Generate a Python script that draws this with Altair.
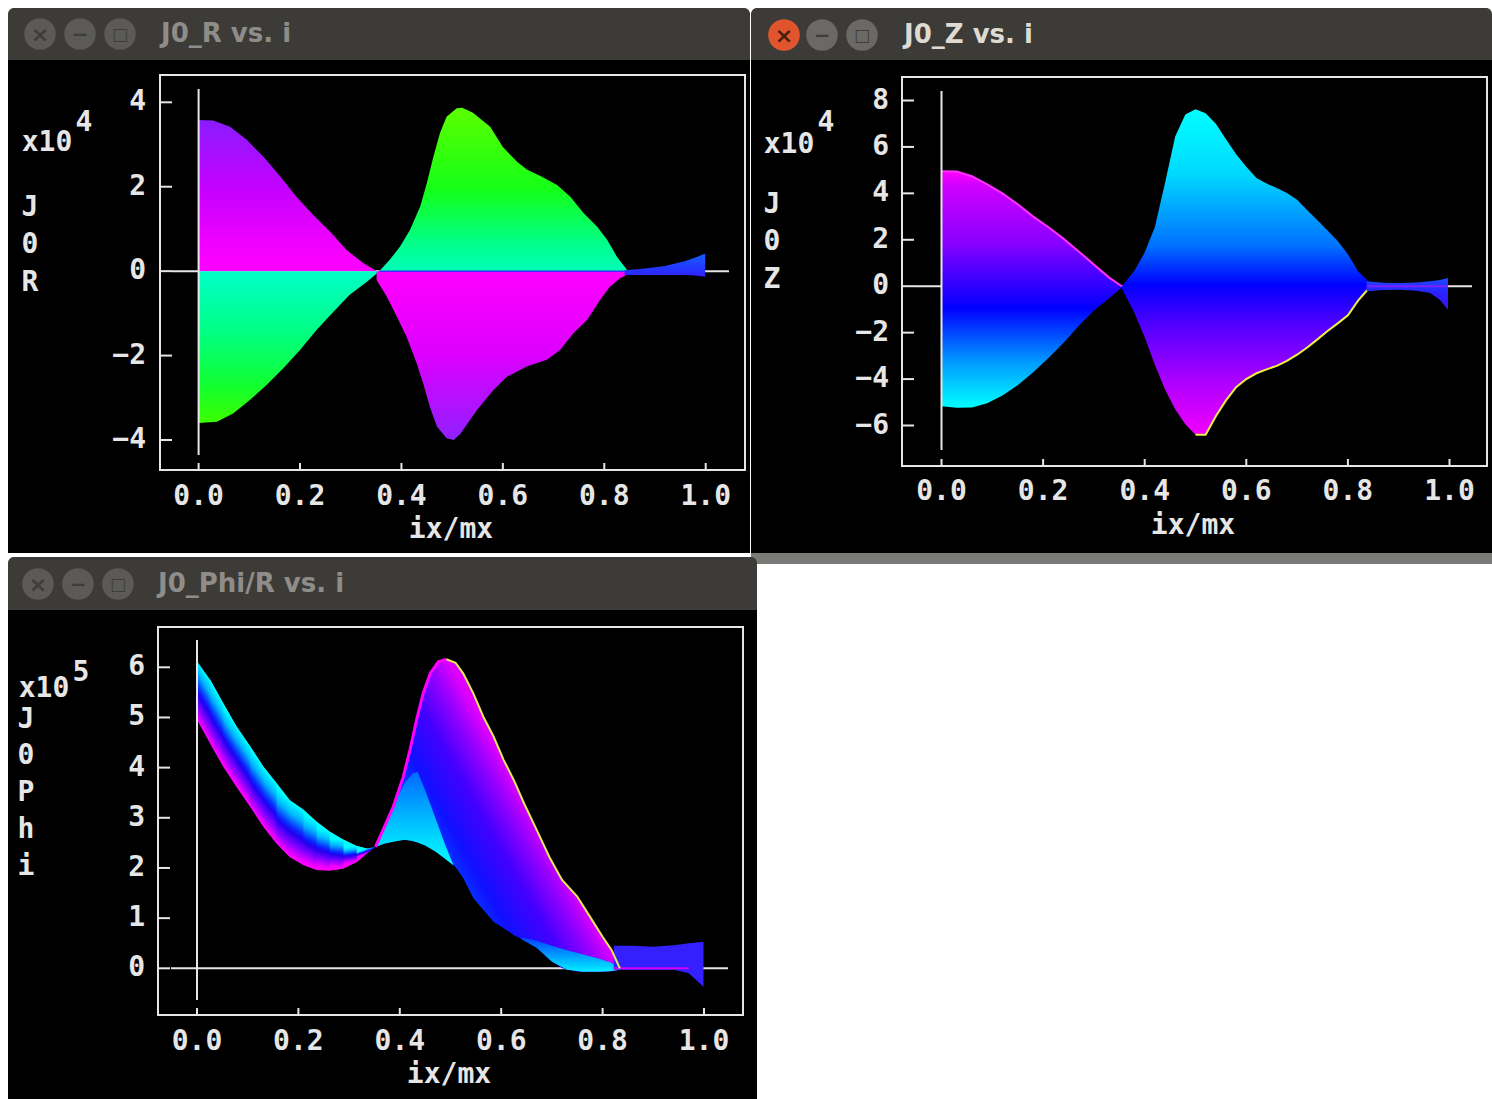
import math
import altair as alt
import pandas as pd

# ---------------- data ----------------
X_TICKS = [0.0, 0.2, 0.4, 0.6, 0.8, 1.0]
X_TICK_LABELS = ["0.0", "0.2", "0.4", "0.6", "0.8", "1.0"]

# Window 1 : J0_R vs. i   (values in units of 1e4)
R_Y_TICKS = [-4, -2, 0, 2, 4]
R_UL_X = [0.0, 0.029, 0.062, 0.095, 0.128, 0.161, 0.193, 0.226, 0.259, 0.292, 0.325, 0.352]
R_UL_Y = [3.58, 3.57, 3.42, 3.11, 2.71, 2.24, 1.76, 1.33, 0.94, 0.50, 0.19, 0.0]
R_LL_X = [0.0, 0.036, 0.068, 0.101, 0.134, 0.167, 0.200, 0.233, 0.266, 0.298, 0.332, 0.352]
R_LL_Y = [-3.60, -3.57, -3.37, -3.05, -2.70, -2.30, -1.87, -1.39, -0.96, -0.56, -0.25, -0.05]
R_UR_X = [0.356, 0.377, 0.397, 0.417, 0.437, 0.450, 0.463, 0.476, 0.489, 0.509, 0.520, 0.541,
          0.575, 0.600, 0.628, 0.648, 0.673, 0.707, 0.733, 0.759, 0.786, 0.806, 0.825, 0.845]
R_UR_Y = [0.0, 0.27, 0.58, 0.98, 1.53, 2.08, 2.71, 3.27, 3.66, 3.86, 3.87, 3.75,
          3.42, 2.94, 2.59, 2.40, 2.26, 2.04, 1.76, 1.38, 1.05, 0.74, 0.34, 0.03]
R_LR_X = [0.351, 0.371, 0.391, 0.410, 0.430, 0.443, 0.456, 0.470, 0.489, 0.503, 0.516, 0.549,
          0.581, 0.608, 0.647, 0.687, 0.713, 0.739, 0.766, 0.792, 0.811, 0.831, 0.844]
R_LR_Y = [-0.21, -0.60, -1.08, -1.55, -2.18, -2.66, -3.21, -3.68, -3.96, -4.00, -3.86, -3.29,
          -2.82, -2.50, -2.26, -2.10, -1.87, -1.47, -1.16, -0.68, -0.37, -0.17, -0.09]
R_TAIL_X = [0.840, 0.880, 0.920, 0.960, 0.985, 0.999]
R_TAIL_UP = [0.02, 0.06, 0.12, 0.24, 0.35, 0.42]
R_TAIL_LO = [-0.09, -0.09, -0.09, -0.09, -0.11, -0.13]

# Window 2 : J0_Z vs. i   (values in units of 1e4)
Z_Y_TICKS = [-6, -4, -2, 0, 2, 4, 6, 8]
Z_L_X = [0.0, 0.03, 0.06, 0.09, 0.12, 0.15, 0.18, 0.21, 0.24, 0.27, 0.30, 0.33, 0.355]
Z_L_UP = [4.95, 4.94, 4.74, 4.39, 4.00, 3.53, 3.01, 2.55, 2.05, 1.50, 0.93, 0.37, 0.0]
Z_L_LO = [-5.17, -5.24, -5.22, -5.04, -4.71, -4.27, -3.72, -3.10, -2.45, -1.71, -1.05, -0.52, -0.05]
Z_R_X = [0.355, 0.38, 0.40, 0.42, 0.44, 0.46, 0.48, 0.50, 0.52, 0.54, 0.56, 0.58, 0.60,
         0.62, 0.64, 0.66, 0.68, 0.70, 0.72, 0.74, 0.76, 0.78, 0.80, 0.82, 0.84]
Z_R_UP = [0.0, 0.68, 1.45, 2.55, 4.45, 6.45, 7.40, 7.62, 7.45, 7.00, 6.33, 5.68, 5.15,
          4.66, 4.42, 4.23, 4.02, 3.72, 3.27, 2.84, 2.40, 1.95, 1.38, 0.65, 0.22]
Z_R_LO = [-0.10, -1.15, -2.20, -3.38, -4.45, -5.30, -5.95, -6.40, -6.40, -5.60, -4.92, -4.35, -4.00,
          -3.75, -3.58, -3.43, -3.22, -2.95, -2.64, -2.29, -1.93, -1.60, -1.25, -0.62, -0.12]
Z_TAIL_X = [0.837, 0.870, 0.903, 0.935, 0.962, 0.981, 0.997]
Z_TAIL_UP = [0.21, 0.15, 0.14, 0.16, 0.21, 0.27, 0.35]
Z_TAIL_LO = [-0.22, -0.16, -0.15, -0.20, -0.29, -0.58, -1.01]

# Window 3 : J0_Phi/R vs. i   (values in units of 1e5)
P_Y_TICKS = [0, 1, 2, 3, 4, 5, 6]
P_L_X = [0.0, 0.026, 0.052, 0.078, 0.105, 0.131, 0.157, 0.183, 0.210, 0.236, 0.262, 0.289, 0.315, 0.335, 0.352]
P_L_UP = [6.12, 5.75, 5.28, 4.82, 4.42, 4.02, 3.69, 3.35, 3.16, 2.92, 2.72, 2.56, 2.44, 2.39, 2.42]
P_L_LO = [4.95, 4.48, 4.02, 3.62, 3.22, 2.82, 2.49, 2.22, 2.06, 1.96, 1.95, 1.99, 2.12, 2.29, 2.42]
P_M_X = [0.352, 0.367, 0.387, 0.407, 0.420, 0.433, 0.446, 0.460, 0.476, 0.492, 0.510, 0.525, 0.545,
         0.565, 0.585, 0.605, 0.625, 0.645, 0.670, 0.695, 0.720, 0.750, 0.775, 0.800, 0.818, 0.834]
P_M_UP = [2.42, 2.76, 3.22, 3.82, 4.35, 4.95, 5.48, 5.88, 6.11, 6.16, 6.09, 5.88, 5.48,
          5.01, 4.62, 4.15, 3.75, 3.29, 2.76, 2.22, 1.76, 1.43, 1.03, 0.63, 0.36, 0.0]
P_M_LO = [2.42, 2.48, 2.53, 2.56, 2.55, 2.52, 2.47, 2.40, 2.30, 2.16, 2.02, 1.80, 1.40,
          1.16, 0.93, 0.80, 0.66, 0.56, 0.41, 0.18, 0.0, -0.07, -0.07, -0.07, -0.06, -0.03]
P_PATCH_X = [0.352, 0.37, 0.39, 0.41, 0.425, 0.435, 0.45, 0.47, 0.49, 0.505]
P_PATCH_UP = [2.42, 2.85, 3.30, 3.70, 3.88, 3.92, 3.55, 3.00, 2.45, 2.08]
P_PATCH_LO = [2.42, 2.49, 2.53, 2.56, 2.54, 2.51, 2.45, 2.33, 2.18, 2.06]
P_STRIP_X = [0.64, 0.67, 0.70, 0.73, 0.76, 0.79, 0.815, 0.834]
P_STRIP_UP = [0.62, 0.55, 0.45, 0.36, 0.28, 0.20, 0.12, 0.0]
P_STRIP_LO = [0.58, 0.41, 0.13, -0.03, -0.07, -0.07, -0.06, -0.03]
P_TAIL_X = [0.822, 0.86, 0.90, 0.94, 0.97, 0.999]
P_TAIL_UP = [0.45, 0.45, 0.43, 0.46, 0.50, 0.53]
P_TAIL_LO = [-0.03, -0.03, -0.03, -0.03, -0.10, -0.37]

# ---------------- styling / layout ----------------
MONO = "DejaVu Sans Mono"
UI = "DejaVu Sans"
AX = "#e6e6e6"
BAR = "#3c3b37"
FS = 28

W1 = dict(xr=[198.6, 705.7], yd=[-4, 4], yr=[440.0, 102.3])
W2 = dict(xr=[941.5, 1449.5], yd=[-6, 8], yr=[425.5, 100.5])
W3 = dict(xr=[197.0, 704.0], yd=[0, 6], yr=[968.3, 667.3])

ONE = pd.DataFrame({"k": [0]})


def xsc(w):
    return alt.Scale(domain=[0, 1], range=w["xr"], nice=False, zero=False)


def ysc(w):
    return alt.Scale(domain=w["yd"], range=w["yr"], nice=False, zero=False)


def X(w, f="x"):
    return alt.X(f"{f}:Q", scale=xsc(w), axis=None)


def Y(w, f="y"):
    return alt.Y(f"{f}:Q", scale=ysc(w), axis=None)


def box(x0, x1, y0, y1, color, **kw):
    return alt.Chart(ONE).mark_rect(color=color, **kw).encode(
        x=alt.value(x0), x2=alt.value(x1), y=alt.value(y0), y2=alt.value(y1))


def label(text, x, y, size=FS, color=AX, font=MONO, weight="bold", align="center"):
    return alt.Chart(ONE).mark_text(text=text, font=font, fontSize=size, fontWeight=weight,
                                    color=color, align=align, baseline="middle").encode(
        x=alt.value(x), y=alt.value(y))


def grad(stops, x1=0.0, y1=0.0, x2=0.0, y2=1.0):
    return alt.LinearGradient(gradient="linear",
                              stops=[alt.GradientStop(offset=o, color=c) for o, c in stops],
                              x1=x1, y1=y1, x2=x2, y2=y2)


def area(w, x, top, bottom=None, fill="#ffffff", opacity=1.0):
    d = {"x": x, "y": top}
    enc = dict(x=X(w), y=Y(w))
    if bottom is not None:
        d["y2"] = bottom
        enc["y2"] = alt.Y2("y2:Q")
    else:
        enc["y2"] = alt.datum(0)
    return alt.Chart(pd.DataFrame(d)).mark_area(color=fill, opacity=opacity,
                                                interpolate="linear").encode(**enc)


def line(w, x, y, color, width):
    return alt.Chart(pd.DataFrame({"x": x, "y": y})).mark_line(
        color=color, strokeWidth=width, interpolate="linear").encode(x=X(w), y=Y(w))


def band_gradient(x, up, lo, stops):
    """gradient whose iso-colour lines follow the direction of a sloping band"""
    xmin, xmax = min(x), max(x)
    ymin, ymax = min(up + lo), max(up + lo)

    def n(px, py):
        return ((px - xmin) / (xmax - xmin), (ymax - py) / (ymax - ymin))

    a = n(x[0], (up[0] + lo[0]) / 2)
    b = n(x[-1], (up[-1] + lo[-1]) / 2)
    d = (b[0] - a[0], b[1] - a[1])
    dl = math.hypot(*d)
    g = (-d[1] / dl, d[0] / dl)
    m = len(x) // 2
    s = n(x[m], up[m])
    L = n(x[m], lo[m])
    t = (L[0] - s[0]) * g[0] + (L[1] - s[1]) * g[1]
    if abs(t) < 1e-6:
        t = 1e-3
    return grad(stops, s[0], s[1], s[0] + t * g[0], s[1] + t * g[1])


def edge_gradient(x, up, lo, inner, e0, e1, stops):
    """offset 0 at an inner point, offset 1 on the edge e0-e1"""
    xmin, xmax = min(x), max(x)
    ymin, ymax = min(up + lo), max(up + lo)

    def n(p):
        return ((p[0] - xmin) / (xmax - xmin), (ymax - p[1]) / (ymax - ymin))

    p, a, b = n(inner), n(e0), n(e1)
    d = (b[0] - a[0], b[1] - a[1])
    dl = math.hypot(*d)
    g = (-d[1] / dl, d[0] / dl)
    t = (a[0] - p[0]) * g[0] + (a[1] - p[1]) * g[1]
    return grad(stops, p[0], p[1], p[0] + t * g[0], p[1] + t * g[1])


def window_chrome(x0, x1, ytop, ybar, ybot, title, active, btn_y, btn_x, title_x):
    layers = [
        box(x0, x1, ybar, ybot, "#000000"),
        box(x0, x1, ytop, ybar, BAR, cornerRadiusTopLeft=6, cornerRadiusTopRight=6),
    ]
    circ = ["#e0552d" if active else "#5b5a56", "#6a6965" if active else "#5b5a56",
            "#6a6965" if active else "#5b5a56"]
    icons = ["×", "−", "□"]
    icol = ["#4a1c0c" if active else "#3e3d39", "#3e3d39", "#3e3d39"]
    isize = [22, 20, 17]
    for bx, cc, ic, col, sz in zip(btn_x, circ, icons, icol, isize):
        layers.append(alt.Chart(ONE).mark_point(shape="circle", filled=True, size=1000, color=cc,
                                                opacity=1).encode(x=alt.value(bx), y=alt.value(btn_y)))
        layers.append(label(ic, bx, btn_y + 1, size=sz, color=col, font=UI, weight="bold"))
    layers.append(label(title, title_x, btn_y, size=26, color="#dfdbd2" if active else "#8e8d89",
                        font=UI, weight="bold", align="left"))
    return layers


def axes(w, frame, yticks, ylab_x, xlab_y, zero_x, xtitle, sci, exp, letters, letters_x):
    fx0, fx1, fy0, fy1 = frame
    yt = pd.DataFrame({"y": yticks, "t": [str(v).replace("-", "\u2212") for v in yticks]})
    xt = pd.DataFrame({"x": X_TICKS, "t": X_TICK_LABELS})
    layers = [
        alt.Chart(ONE).mark_rect(fillOpacity=0, stroke=AX, strokeWidth=2).encode(
            x=alt.value(fx0), x2=alt.value(fx1), y=alt.value(fy0), y2=alt.value(fy1)),
        alt.Chart(yt).mark_rule(color=AX, strokeWidth=2).encode(
            y=Y(w), x=alt.value(fx0), x2=alt.value(fx0 + 12)),
        alt.Chart(yt).mark_text(font=MONO, fontSize=FS, fontWeight="bold", color=AX,
                                align="right", baseline="middle").encode(
            y=Y(w), x=alt.value(ylab_x), text="t:N"),
        alt.Chart(xt).mark_rule(color=AX, strokeWidth=2).encode(
            x=X(w), y=alt.value(fy1 - 7), y2=alt.value(fy1)),
        alt.Chart(xt).mark_text(font=MONO, fontSize=FS, fontWeight="bold", color=AX,
                                align="center", baseline="middle").encode(
            x=X(w), y=alt.value(xlab_y), text="t:N"),
        alt.Chart(ONE).mark_rule(color=AX, strokeWidth=2).encode(
            y=alt.Y(datum=0, scale=ysc(w), axis=None), x=alt.value(zero_x[0]), x2=alt.value(zero_x[1])),
        label("ix/mx", xtitle[0], xtitle[1]),
        label("x10", sci[0], sci[1]),
        label(exp[0], exp[1], exp[2]),
    ]
    for ch, yy in letters:
        layers.append(label(ch, letters_x, yy))
    return layers


def vline(w, y0, y1):
    return alt.Chart(ONE).mark_rule(color=AX, strokeWidth=2).encode(
        x=alt.X(datum=0, scale=xsc(w), axis=None), y=alt.value(y0), y2=alt.value(y1))


# ---------------- window 1 : J0_R ----------------
w1_layers = window_chrome(8, 750, 8, 60, 553, "J0_R vs. i", False, 34, [40, 80, 120], 161)
w1_layers += axes(W1, (160, 745, 75, 470), R_Y_TICKS, 146, 497, (172, 729), (451, 530),
                  (47, 143), ("4", 84, 123), [("J", 208), ("0", 245), ("R", 283)], 30)
w1_layers += [
    area(W1, R_UL_X, R_UL_Y, fill=grad([(0, "#8a1cff"), (0.45, "#c400ff"), (0.8, "#ee00ff"), (1, "#ff00ff")])),
    area(W1, R_LL_X, R_LL_Y, fill=grad([(0, "#00ffc8"), (0.4, "#00ff84"), (0.75, "#12ff30"), (1, "#3cff00")])),
    area(W1, R_UR_X, R_UR_Y, fill=grad([(0, "#5cff00"), (0.5, "#14ff18"), (0.85, "#00ff90"), (1, "#00ffb8")])),
    area(W1, R_LR_X, R_LR_Y, fill=grad([(0, "#ff00ff"), (0.5, "#dc00ff"), (1, "#9020ff")])),
    line(W1, [R_UR_X[0], R_UR_X[-1]], [0, 0], "#4030ff", 1.5),
    area(W1, R_TAIL_X, R_TAIL_UP, R_TAIL_LO, fill=grad([(0, "#1060ff"), (1, "#3020ff")])),
    vline(W1, 89, 455),
]
w1 = alt.layer(*w1_layers)

# ---------------- window 2 : J0_Z ----------------
w2_layers = [box(751, 1492, 553, 564, "#7a7a78")]
w2_layers += window_chrome(751, 1492, 8, 60, 553, "J0_Z vs. i", True, 35, [784, 822, 862], 904)
w2_layers += axes(W2, (902, 1487, 77, 466), Z_Y_TICKS, 889, 492, (914, 1472), (1193, 526),
                  (789, 145), ("4", 826, 123), [("J", 205), ("0", 242), ("Z", 280)], 772)
w2_layers += [
    area(W2, Z_L_X, Z_L_UP, Z_L_LO, fill=grad([(0, "#ff00ff"), (0.06, "#d000ff"), (0.3, "#8a00ff"),
                                               (0.58, "#0000ff"), (0.8, "#0096ff"), (1, "#00ffff")])),
    line(W2, Z_L_X, Z_L_UP, "#ff30ff", 2),
    area(W2, Z_R_X, Z_R_UP, Z_R_LO, fill=grad([(0, "#00ffff"), (0.2, "#00d8ff"), (0.42, "#0070ff"),
                                               (0.54, "#0000ff"), (0.66, "#5000ff"), (0.85, "#b400ff"),
                                               (1, "#f000ff")])),
    line(W2, Z_R_X[7:], Z_R_LO[7:], "#f0f040", 2),
    area(W2, Z_TAIL_X, Z_TAIL_UP, Z_TAIL_LO, fill=grad([(0, "#1a4cff"), (0.5, "#2a20ff"), (1, "#3a10ff")])),
    line(W2, [Z_TAIL_X[0], Z_TAIL_X[-1]], [0, 0], "#8020ff", 2),
    vline(W2, 91, 450),
]
w2 = alt.layer(*w2_layers)

# ---------------- window 3 : J0_Phi/R ----------------
w3_layers = window_chrome(8, 757, 557, 610, 1099, "J0_Phi/R vs. i", False, 584, [38, 78, 118], 158)
w3_layers += axes(W3, (158, 743, 627, 1015), P_Y_TICKS, 145, 1042, (171, 728), (449, 1075),
                  (44, 689), ("5", 81, 673),
                  [("J", 720), ("0", 756), ("P", 793), ("h", 830), ("i", 867)], 26)
band_stops = [(0, "#00ffff"), (0.22, "#00b4ff"), (0.45, "#0a28ff"), (0.55, "#2000f0"),
              (0.75, "#8000ff"), (0.92, "#e000ff"), (1, "#ff00ff")]
for i0 in range(0, len(P_L_X) - 2):
    i1 = i0 + 2
    xs_, us_, ls_ = P_L_X[i0:i1 + 1], P_L_UP[i0:i1 + 1], P_L_LO[i0:i1 + 1]
    w3_layers.append(area(W3, xs_, us_, ls_, fill=band_gradient(xs_, us_, ls_, band_stops)))
peak = P_M_UP.index(max(P_M_UP))
w3_layers += [
    area(W3, P_M_X, P_M_UP, P_M_LO,
         fill=edge_gradient(P_M_X, P_M_UP, P_M_LO, (0.47, 2.0), (P_M_X[peak], P_M_UP[peak]),
                            (P_M_X[-1], P_M_UP[-1]),
                            [(0, "#0050ff"), (0.3, "#1010ff"), (0.6, "#4400ff"), (0.85, "#9a00ff"),
                             (1, "#dd00ff")])),
    area(W3, P_PATCH_X, P_PATCH_UP, P_PATCH_LO, fill=grad([(0, "#0068ff"), (0.6, "#00c8ff"), (1, "#00ffff")])),
    area(W3, P_STRIP_X, P_STRIP_UP, P_STRIP_LO, fill=grad([(0, "#0040ff"), (1, "#00f0ff")])),
    area(W3, P_TAIL_X, P_TAIL_UP, P_TAIL_LO, fill="#3420ff"),
    line(W3, [P_TAIL_X[0], 0.97], [0, 0], "#d000ff", 2),
    line(W3, P_M_X[:peak + 1], P_M_UP[:peak + 1], "#ff00ff", 3),
    line(W3, P_M_X[peak:], P_M_UP[peak:], "#eaea50", 2),
    vline(W3, 640, 1000),
]
w3 = alt.layer(*w3_layers)

chart = alt.layer(w1, w2, w3).resolve_scale(x="independent", y="independent").properties(
    width=1492, height=1099, background="white", padding=0,
    autosize=alt.AutoSizeParams(type="none"),
).configure_view(stroke=None)

chart.save("out.html", embed_options={"renderer": "svg", "actions": False})
